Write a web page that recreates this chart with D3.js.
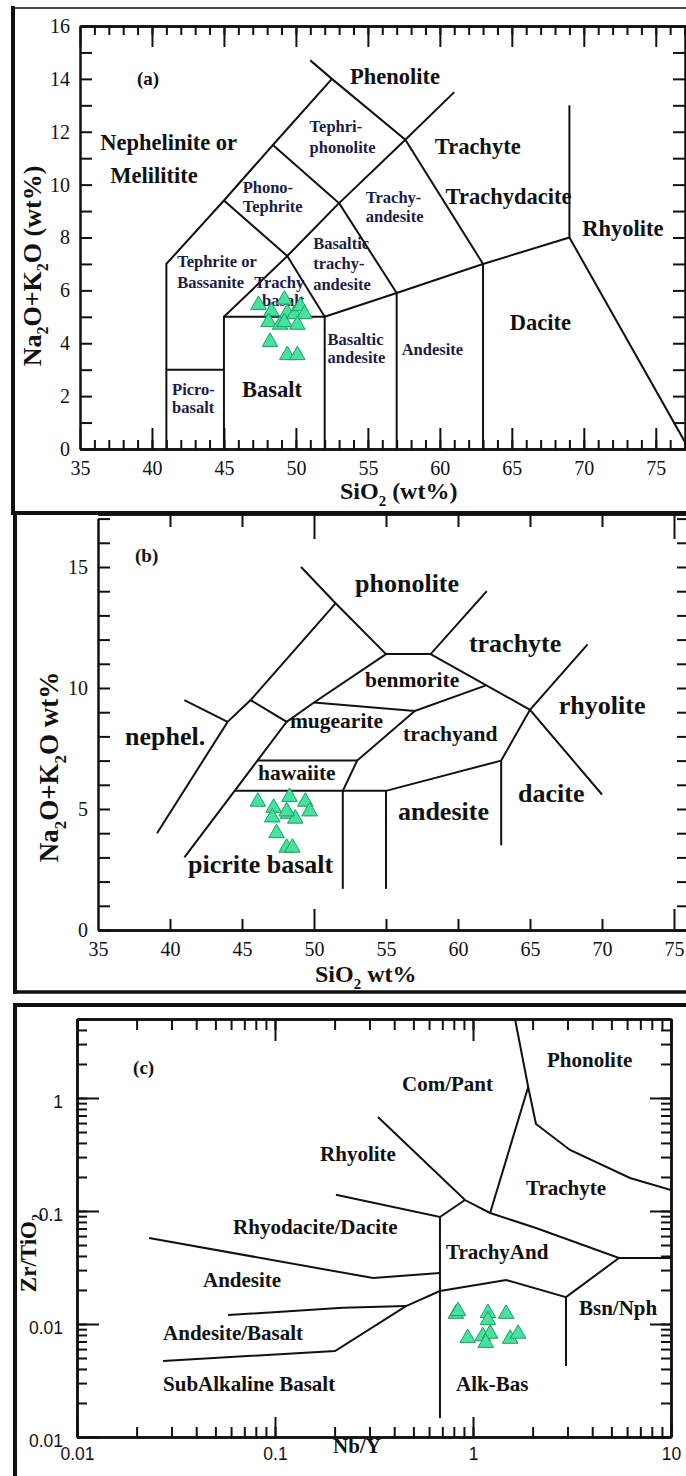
<!DOCTYPE html>
<html>
<head>
<meta charset="utf-8">
<script src="https://cdn.jsdelivr.net/npm/d3@7"></script>
<style>
body { margin: 0; background: #fff; }
svg { display: block; }
</style>
</head>
<body>
<svg id="chart" width="686" height="1476"></svg>
<script>
// ---------- (a) TAS, Le Bas et al. ----------
const aXTicks = [35, 40, 45, 50, 55, 60, 65, 70, 75]
const aYTicks = [0, 2, 4, 6, 8, 10, 12, 14, 16]
const aFields = [
  [[41, 0], [41, 7], [45, 9.4], [48.4, 11.5], [52.5, 14]],
  [[51, 14.7], [52.5, 14], [57.6, 11.7], [63, 7], [63, 0]],
  [[41, 3], [45, 3]],
  [[45, 0], [45, 5], [52, 5], [52, 0]],
  [[45, 5], [49.4, 7.3], [52, 5]],
  [[52, 5], [57, 5.9], [63, 7], [69, 8], [77.3, 0]],
  [[57, 0], [57, 5.9], [53, 9.3], [49.4, 7.3], [45, 9.4]],
  [[53, 9.3], [48.4, 11.5]],
  [[53, 9.3], [57.6, 11.7], [61, 13.5]],
  [[69, 8], [69, 13]]
]
const aNames = [
  ['Nephelinite or', 36.4, 11.3], ['Melilitite', 37.1, 10.05], ['Phenolite', 53.75, 13.8],
  ['Trachyte', 59.65, 11.15], ['Trachydacite', 60.4, 9.25], ['Rhyolite', 69.9, 8.05],
  ['Dacite', 64.85, 4.5], ['Basalt', 46.25, 1.95]
]
const aSmallNames = [
  ['Tephri-', 50.95, 12], ['phonolite', 50.95, 11.2], ['Phono-', 46.3, 9.7], ['Tephrite', 46.3, 8.95],
  ['Trachy-', 54.85, 9.3], ['andesite', 54.85, 8.6], ['Tephrite or', 41.75, 6.9], ['Bassanite', 41.75, 6.1],
  ['Trachy', 47.1, 6.1], ['basalt', 47.65, 5.4], ['Basaltic', 51.2, 7.55], ['trachy-', 51.2, 6.8],
  ['andesite', 51.2, 6.0], ['Basaltic', 52.2, 3.95], ['andesite', 52.2, 3.25], ['Andesite', 57.35, 3.55],
  ['Picro-', 41.4, 2.05], ['basalt', 41.4, 1.35]
]
const aSamples = [
  [47.4, 5.45], [48.3, 5.2], [48.1, 4.8], [48.9, 4.7], [49.2, 5.65], [49.4, 5.15], [49.2, 4.8],
  [49.9, 5.1], [50.3, 5.4], [50.6, 5.1], [50.1, 4.7], [48.2, 4.05], [49.4, 3.55], [50.1, 3.55]
]

// ---------- (b) TAS, Cox et al. ----------
const bXTicks = [35, 40, 45, 50, 55, 60, 65, 70, 75]
const bYTicks = [0, 5, 10, 15]
const bFields = [
  [[49.1, 15], [51.5, 13.5], [55, 11.4], [58.1, 11.4], [62, 14]],
  [[58.1, 11.4], [65, 9.1], [70, 5.6]],
  [[69, 11.8], [65, 9.1], [63, 7], [63, 3.5]],
  [[63, 7], [55, 5.75], [44.5, 5.75]],
  [[52, 5.75], [52, 1.7]],
  [[55, 5.75], [55, 1.7]],
  [[51.5, 13.5], [45.6, 9.5], [44, 8.6], [39.1, 4]],
  [[41, 9.5], [44, 8.6]],
  [[45.6, 9.5], [48.1, 8.6], [41, 3]],
  [[48.1, 8.6], [50, 9.4], [55, 11.4]],
  [[50, 9.4], [57, 9.05], [61.9, 10.1]],
  [[57, 9.05], [53, 7], [52, 5.75]],
  [[46.1, 7], [53, 7]]
]
const bNames = [
  ['phonolite', 52.85, 13.97], ['trachyte', 60.76, 11.49], ['rhyolite', 67.0, 8.93],
  ['nephel.', 36.88, 7.64], ['dacite', 64.17, 5.29], ['andesite', 55.83, 4.55],
  ['picrite basalt', 41.25, 2.36]
]
const bSmallNames = [
  ['benmorite', 53.54, 10.04], ['mugearite', 48.33, 8.35], ['trachyand', 56.18, 7.81], ['hawaiite', 46.11, 6.2]
]
const bSamples = [
  [46.1, 5.3], [47.2, 5.05], [47.1, 4.65], [48.3, 5.5], [48.2, 4.8], [48.7, 4.6],
  [49.4, 5.3], [49.7, 4.9], [48.1, 4.9], [47.4, 4.0], [48.1, 3.4], [48.5, 3.4]
]

// ---------- (c) Zr/TiO2 vs Nb/Y, Winchester & Floyd ----------
const cXTicks = [0.01, 0.1, 1, 10]
const cXLabels = ['0.01', '0.1', '1', '10']
const cYTicks = [0.001, 0.01, 0.1, 1]
const cYLabels = ['0.01', '0.01', '0.1', '1']
const cFields = [
  [[1.63, 5], [1.9, 1.25], [2.08, 0.589], [3.09, 0.347], [6.21, 0.196], [10, 0.153]],
  [[1.9, 1.25], [1.22, 0.096]],
  [[0.331, 0.679], [0.911, 0.125], [1.22, 0.096], [2.08, 0.0707], [5.46, 0.0384], [10, 0.0384]],
  [[0.203, 0.139], [0.681, 0.0885], [0.911, 0.125]],
  [[0.681, 0.0885], [0.681, 0.00147]],
  [[0.0231, 0.0577], [0.313, 0.0255], [0.681, 0.0283]],
  [[0.681, 0.0196], [1.47, 0.0245], [2.95, 0.0173], [5.46, 0.0384]],
  [[2.95, 0.0173], [2.95, 0.00425]],
  [[0.058, 0.012], [0.22, 0.0139], [0.459, 0.0144], [0.681, 0.0196]],
  [[0.0272, 0.00471], [0.201, 0.00577], [0.459, 0.0144]]
]
const cNames = [
  ['Com/Pant', 0.438, 1.153], ['Phonolite', 2.366, 1.88], ['Rhyolite', 0.169, 0.277],
  ['Trachyte', 1.853, 0.1386], ['Rhyodacite/Dacite', 0.0614, 0.0626], ['TrachyAnd', 0.731, 0.0376],
  ['Andesite', 0.0433, 0.0212], ['Andesite/Basalt', 0.0272, 0.00722],
  ['SubAlkaline Basalt', 0.0272, 0.00255], ['Bsn/Nph', 3.43, 0.012], ['Alk-Bas', 0.821, 0.00255]
]
const cSamples = [
  [0.82, 0.0123], [0.84, 0.013], [1.19, 0.0125], [1.47, 0.0123], [0.94, 0.0075], [1.12, 0.0078],
  [1.22, 0.0082], [1.16, 0.0068], [1.54, 0.0074], [1.69, 0.0082], [1.19, 0.0108]
]

const svg = d3.select('#chart')
const serif = '"Liberation Serif", "Times New Roman", serif'
const sans = '"Liberation Sans", Arial, sans-serif'
const ink = '#111'
const tri = d3.symbol(d3.symbolTriangle, 105)

function inTicks(g, axis, values, size) {
  g.call(axis.tickValues(values).tickSize(size).tickSizeOuter(0).tickFormat(''))
  g.selectAll('line').attr('stroke', ink).attr('stroke-width', 2)
  g.select('.domain').attr('stroke', ink).attr('stroke-width', 2.5)
}

function tickText(g, axis, values, fmt, pad, font, size) {
  g.call(axis.tickValues(values).tickSize(0).tickPadding(pad).tickFormat((d, i) => fmt[i]))
  g.select('.domain').remove()
  g.selectAll('text').attr('font-family', font).attr('font-size', size).attr('fill', ink)
}

function fieldLines(g, lines, x, y) {
  const line = d3.line().x(d => x(d[0])).y(d => y(d[1]))
  g.selectAll('path.field')
    .data(lines)
    .enter()
    .append('path')
      .attr('class', 'field')
      .attr('d', line)
      .attr('fill', 'none')
      .attr('stroke', ink)
      .attr('stroke-width', 2)
}

function names(g, list, x, y, size, color) {
  g.selectAll(null)
    .data(list)
    .enter()
    .append('text')
      .attr('x', d => x(d[1]))
      .attr('y', d => y(d[2]))
      .attr('font-family', serif)
      .attr('font-weight', 'bold')
      .attr('font-size', size)
      .attr('fill', color)
      .text(d => d[0])
}

function samples(g, list, x, y) {
  g.selectAll(null)
    .data(list)
    .enter()
    .append('path')
      .attr('d', tri)
      .attr('transform', d => `translate(${x(d[0])},${y(d[1])})`)
      .attr('fill', '#46e29e')
      .attr('stroke', '#1c9e60')
      .attr('stroke-width', 1)
}

// text with subscripts: parts = [[text, isSub], ...]
function subText(t, parts, size) {
  let down = false
  parts.forEach(p => {
    const s = t.append('tspan').text(p[0])
    if (p[1]) {
      s.attr('font-size', size * 0.62).attr('dy', size * 0.28)
      down = true
    } else {
      s.attr('font-size', size).attr('dy', down ? -size * 0.28 : 0)
      down = false
    }
  })
}

function title(x, y, rotate, size, parts, anchor) {
  const t = svg.append('text')
    .attr('transform', `translate(${x},${y})` + (rotate ? ' rotate(-90)' : ''))
    .attr('text-anchor', anchor)
    .attr('font-family', serif)
    .attr('font-weight', 'bold')
    .attr('fill', ink)
  subText(t, parts, size)
}

function clip(id, x0, y0, x1, y1) {
  svg.append('clipPath').attr('id', id)
    .append('rect').attr('x', x0).attr('y', y0).attr('width', x1 - x0).attr('height', y1 - y0)
}

function frame(x1, y1, x2, y2, w) {
  svg.append('line').attr('x1', x1).attr('y1', y1).attr('x2', x2).attr('y2', y2)
    .attr('stroke', ink).attr('stroke-width', w)
}

// ================= panel (a) =================
const xA = d3.scaleLinear().domain([35, 77.1]).range([80, 686])
const yA = d3.scaleLinear().domain([0, 16]).range([449, 26])
clip('clipA', 80, 26, 686, 449)

const aMinorX = d3.range(36, 78)
const aMinorY = d3.range(0, 17)
inTicks(svg.append('g').attr('transform', 'translate(0,449)'), d3.axisBottom(xA), aMinorX, -9)
inTicks(svg.append('g').attr('transform', 'translate(0,449)'), d3.axisBottom(xA), aXTicks, -21)
inTicks(svg.append('g').attr('transform', 'translate(0,26)'), d3.axisTop(xA), aMinorX, -9)
inTicks(svg.append('g').attr('transform', 'translate(0,26)'), d3.axisTop(xA), aXTicks, -21)
inTicks(svg.append('g').attr('transform', 'translate(80,0)'), d3.axisLeft(yA), aMinorY, -12)
inTicks(svg.append('g').attr('transform', 'translate(685,0)'), d3.axisRight(yA), aMinorY, -12)
tickText(svg.append('g').attr('transform', 'translate(0,449)'), d3.axisBottom(xA), aXTicks, aXTicks.map(String), 12, serif, 20)
tickText(svg.append('g').attr('transform', 'translate(80,0)'), d3.axisLeft(yA), aYTicks, aYTicks.map(String), 10, serif, 20)

const gA = svg.append('g').attr('clip-path', 'url(#clipA)')
fieldLines(gA, aFields, xA, yA)
names(svg.append('g'), aNames, xA, yA, 22.5, ink)
names(svg.append('g'), aSmallNames, xA, yA, 16.5, '#1b1d45')
names(svg.append('g'), [['(a)', 38.96, 13.75]], xA, yA, 19, ink)
samples(svg.append('g'), aSamples, xA, yA)

title(41, 266, true, 26, [['Na'], ['2', 1], ['O+K'], ['2', 1], ['O (wt%)']], 'middle')
title(340, 499, false, 24, [['SiO'], ['2', 1], [' (wt%)']], 'start')

// ================= panel (b) =================
const xB = d3.scaleLinear().domain([35, 75.8]).range([98, 685.5])
const yB = d3.scaleLinear().domain([0, 17]).range([930, 518.6])
clip('clipB', 98, 514, 686, 930)

const bMinorY = d3.range(0, 18)
const bShortX = [40, 45, 55, 60, 65, 70]
const bLongX = [50, 75]
inTicks(svg.append('g').attr('transform', 'translate(0,930)'), d3.axisBottom(xB), bShortX, -11)
inTicks(svg.append('g').attr('transform', 'translate(0,930)'), d3.axisBottom(xB), bLongX, -21)
inTicks(svg.append('g').attr('transform', 'translate(0,514)'), d3.axisTop(xB), bShortX, -13)
inTicks(svg.append('g').attr('transform', 'translate(0,514)'), d3.axisTop(xB), bLongX, -25)
inTicks(svg.append('g').attr('transform', 'translate(98,0)'), d3.axisLeft(yB), bMinorY, -12)
inTicks(svg.append('g').attr('transform', 'translate(687,0)'), d3.axisRight(yB), bMinorY, -10)
tickText(svg.append('g').attr('transform', 'translate(0,930)'), d3.axisBottom(xB), bXTicks, bXTicks.map(String), 12, serif, 20)
tickText(svg.append('g').attr('transform', 'translate(98,0)'), d3.axisLeft(yB), bYTicks, bYTicks.map(String), 10, serif, 20)

const gB = svg.append('g').attr('clip-path', 'url(#clipB)')
fieldLines(gB, bFields, xB, yB)
names(svg.append('g'), bNames, xB, yB, 26, ink)
names(svg.append('g'), bSmallNames, xB, yB, 21.5, ink)
names(svg.append('g'), [['(b)', 37.57, 15.21]], xB, yB, 19, ink)
samples(svg.append('g'), bSamples, xB, yB)

title(58, 767, true, 27, [['Na'], ['2', 1], ['O+K'], ['2', 1], ['O wt%']], 'middle')
title(315, 982, false, 24, [['SiO'], ['2', 1], [' wt%']], 'start')

// ================= panel (c) =================
const xC = d3.scaleLog().domain([0.01, 10]).range([77, 671])
const yC = d3.scaleLog().domain([0.001, 5]).range([1437, 1019])
clip('clipC', 77, 1019, 671, 1437)

const cMinorX = xC.ticks()
const cMinorY = yC.ticks()
inTicks(svg.append('g').attr('transform', 'translate(0,1437)'), d3.axisBottom(xC), cMinorX, -10)
inTicks(svg.append('g').attr('transform', 'translate(0,1437)'), d3.axisBottom(xC), cXTicks, -20)
inTicks(svg.append('g').attr('transform', 'translate(0,1019)'), d3.axisTop(xC), cMinorX, -11)
inTicks(svg.append('g').attr('transform', 'translate(0,1019)'), d3.axisTop(xC), cXTicks, -22)
inTicks(svg.append('g').attr('transform', 'translate(77,0)'), d3.axisLeft(yC), cMinorY, -10)
inTicks(svg.append('g').attr('transform', 'translate(77,0)'), d3.axisLeft(yC), cYTicks, -22)
inTicks(svg.append('g').attr('transform', 'translate(671,0)'), d3.axisRight(yC), cMinorY, -10)
inTicks(svg.append('g').attr('transform', 'translate(671,0)'), d3.axisRight(yC), cYTicks, -21)
tickText(svg.append('g').attr('transform', 'translate(0,1437)'), d3.axisBottom(xC), cXTicks, cXLabels, 11, sans, 17.5)
tickText(svg.append('g').attr('transform', 'translate(77,4)'), d3.axisLeft(yC), cYTicks, cYLabels, 14, sans, 17.5)

const gC = svg.append('g').attr('clip-path', 'url(#clipC)')
fieldLines(gC, cFields, xC, yC)
names(svg.append('g'), cNames, xC, yC, 21, ink)
names(svg.append('g'), [['(c)', 0.0192, 1.63]], xC, yC, 19, ink)
samples(svg.append('g'), cSamples, xC, yC)

title(36, 1253, true, 23, [['Zr/TiO'], ['2', 1]], 'middle')
title(333, 1453, false, 21, [['Nb/Y']], 'start')

// ---------- outer frames ----------
frame(13, 8, 686, 8, 1.5)
frame(13, 6, 13, 515, 4)
frame(13, 513, 686, 513, 4)
frame(15, 513, 15, 994, 4)
frame(13, 992, 686, 992, 3.5)
frame(13, 1005, 686, 1005, 4)
frame(15, 1003, 15, 1476, 4)
</script>
</body>
</html>
